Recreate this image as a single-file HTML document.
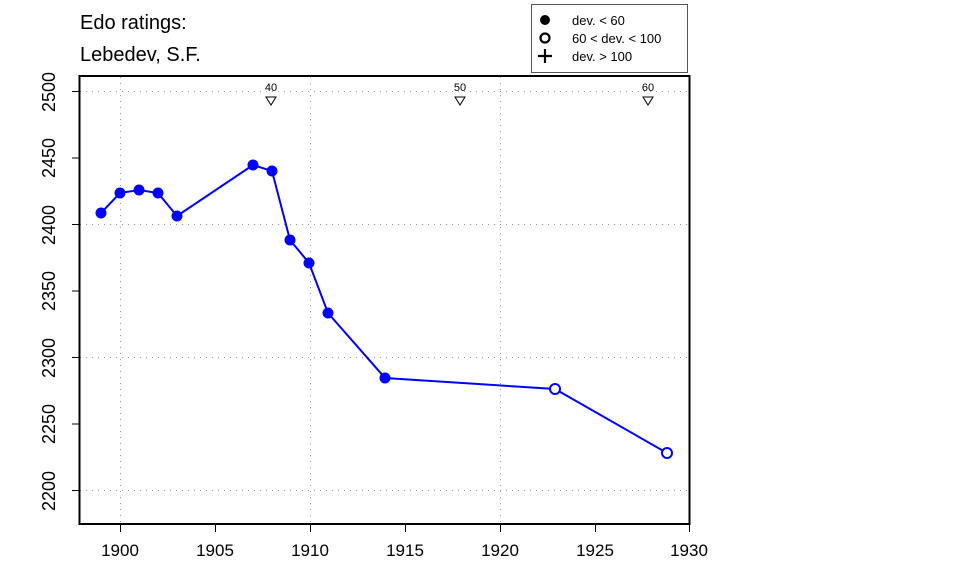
<!DOCTYPE html>
<html><head><style>body{margin:0;background:#fff}svg{display:block}</style></head><body>
<svg width="960" height="576" xmlns="http://www.w3.org/2000/svg" font-family="Liberation Sans, Arial, sans-serif">
<rect width="960" height="576" fill="#fff"/>
<text x="80" y="29" font-size="20">Edo ratings:</text>
<text x="80" y="61" font-size="20">Lebedev, S.F.</text>
<rect x="531.5" y="4.5" width="156" height="68" fill="#fff" stroke="#555" stroke-width="1"/>
<circle cx="545" cy="20" r="5" fill="#000"/>
<circle cx="545" cy="38" r="4.5" fill="none" stroke="#000" stroke-width="2.2"/>
<path d="M538 56h14M545 49v14" stroke="#000" stroke-width="2.2"/>
<text x="572" y="25" font-size="13">dev. &lt; 60</text>
<text x="572" y="43" font-size="13">60 &lt; dev. &lt; 100</text>
<text x="572" y="61" font-size="13">dev. &gt; 100</text>
<g stroke="#999" stroke-dasharray="1,5" stroke-width="1">
<line x1="80" x2="689" y1="91.5" y2="91.5"/><line x1="80" x2="689" y1="224.5" y2="224.5"/><line x1="80" x2="689" y1="357.5" y2="357.5"/><line x1="80" x2="689" y1="490.5" y2="490.5"/>
<line x1="120.5" x2="120.5" y1="77" y2="523"/><line x1="310.5" x2="310.5" y1="77" y2="523"/><line x1="500.5" x2="500.5" y1="77" y2="523"/>
</g>
<g font-size="11" text-anchor="middle" fill="#000">
<text x="271" y="91">40</text><text x="460" y="91">50</text><text x="648" y="91">60</text>
</g>
<g fill="none" stroke="#000" stroke-width="1">
<path d="M266 97h10l-5 8z"/><path d="M455 97h10l-5 8z"/><path d="M643 97h10l-5 8z"/>
</g>
<rect x="79.5" y="76" width="610" height="448" fill="none" stroke="#000" stroke-width="2"/>
<g stroke="#000" stroke-width="1">
<line x1="72" x2="79" y1="91.5" y2="91.5"/><line x1="72" x2="79" y1="158" y2="158"/><line x1="72" x2="79" y1="224.5" y2="224.5"/><line x1="72" x2="79" y1="291" y2="291"/><line x1="72" x2="79" y1="357.5" y2="357.5"/><line x1="72" x2="79" y1="424" y2="424"/><line x1="72" x2="79" y1="490.5" y2="490.5"/>
<line x1="120.5" x2="120.5" y1="525" y2="532"/><line x1="215.5" x2="215.5" y1="525" y2="532"/><line x1="310.5" x2="310.5" y1="525" y2="532"/><line x1="405.5" x2="405.5" y1="525" y2="532"/><line x1="500.5" x2="500.5" y1="525" y2="532"/><line x1="595.5" x2="595.5" y1="525" y2="532"/><line x1="689.5" x2="689.5" y1="525" y2="532"/>
</g>
<g font-size="17" text-anchor="middle">
<text x="120" y="556">1900</text><text x="215" y="556">1905</text><text x="310" y="556">1910</text><text x="405" y="556">1915</text><text x="500" y="556">1920</text><text x="595" y="556">1925</text><text x="689" y="556">1930</text>
</g>
<g font-size="18" text-anchor="middle">
<text transform="translate(55,92) rotate(-90)">2500</text>
<text transform="translate(55,158) rotate(-90)">2450</text>
<text transform="translate(55,225) rotate(-90)">2400</text>
<text transform="translate(55,291) rotate(-90)">2350</text>
<text transform="translate(55,358) rotate(-90)">2300</text>
<text transform="translate(55,424) rotate(-90)">2250</text>
<text transform="translate(55,491) rotate(-90)">2200</text>
</g>
<polyline fill="none" stroke="#0000ff" stroke-width="2" points="101,213 120,193 139,190 158,193 177,216 253,165 272,171 290,240 309,263 328,313 385,378 555,389 667,453"/>
<g fill="#0000ff">
<circle cx="101" cy="213" r="5.5"/><circle cx="120" cy="193" r="5.5"/><circle cx="139" cy="190" r="5.5"/><circle cx="158" cy="193" r="5.5"/><circle cx="177" cy="216" r="5.5"/><circle cx="253" cy="165" r="5.5"/><circle cx="272" cy="171" r="5.5"/><circle cx="290" cy="240" r="5.5"/><circle cx="309" cy="263" r="5.5"/><circle cx="328" cy="313" r="5.5"/><circle cx="385" cy="378" r="5.5"/>
</g>
<g fill="#fff" stroke="#0000ff" stroke-width="2">
<circle cx="555" cy="389" r="5"/><circle cx="667" cy="453" r="5"/>
</g>
</svg>
</body></html>
